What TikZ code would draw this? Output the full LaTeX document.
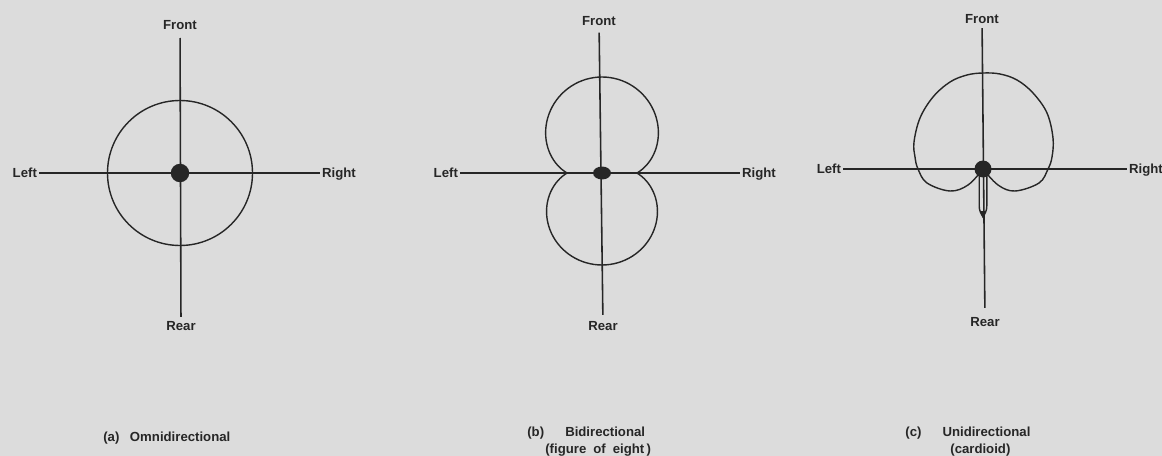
\documentclass[tikz,border=0pt]{standalone}
\usepackage{fontspec}
\setmainfont{Liberation Sans}
\usepackage{xcolor}
\usetikzlibrary{shapes.geometric}
\definecolor{Paper}{HTML}{DCDCDC}
\definecolor{Ink}{HTML}{262626}

\begin{document}
\begin{tikzpicture}[
  x=0.02cm,y=0.02cm,
  lbl/.style={font=\fontsize{7.5}{9}\selectfont\bfseries,text=Ink,inner sep=1pt,text height=5.4pt,text depth=0pt},
  captxt/.style={font=\fontsize{7.5}{9}\selectfont\bfseries,text=Ink,inner sep=0pt},
  axis/.style={draw=Ink,line width=0.9pt},
  polar/.style={draw=Ink,line width=0.8pt},
  dot/.style={circle,fill=Ink,inner sep=0pt,minimum size=0.37cm},
  flatdot/.style={ellipse,fill=Ink,inner sep=0pt,minimum width=0.36cm,minimum height=0.26cm}
]
\path[use as bounding box,fill=Paper] (0,0) rectangle (1162,-456);

% (a) omnidirectional
\node[lbl] (frontA) at (180,-25) {Front};
\node[lbl] (rearA) at (181,-326) {Rear};
\node[lbl,anchor=east] (leftA) at (39,-173) {Left};
\node[lbl,anchor=west] (rightA) at (320,-173) {Right};
\draw[axis] (leftA) -- (rightA);
\draw[axis,shorten <=3.5pt,shorten >=1.3pt] (frontA) -- (rearA);
\draw[polar] (180,-173) circle (72.5);
\node[dot] (micA) at (180,-173) {};
\node[captxt,anchor=base west] (capA) at (103,-441) {(a)\hspace{6pt}Omnidirectional};

% (b) figure of eight
\node[lbl] (frontB) at (599,-21) {Front};
\node[lbl] (rearB) at (603,-326) {Rear};
\node[lbl,anchor=east] (leftB) at (460,-173) {Left};
\node[lbl,anchor=west] (rightB) at (740,-173) {Right};
\draw[axis] (leftB) -- (rightB);
\draw[axis,shorten <=2.7pt,shorten >=2.4pt] (frontB) -- (rearB);
\draw[polar] plot[domain=-90:90,samples=73] ({602+(35+59*cos(\x))*sin(\x)},{-173+(35+61*cos(\x))*cos(\x)});
\draw[polar] plot[domain=90:270,samples=73] ({602+(35-57*cos(\x))*sin(\x)},{-173+(35-57*cos(\x))*cos(\x)});
\node[flatdot] (micB) at (602,-173) {};
\node[captxt,anchor=base west] (capB) at (527,-436) {(b)\hspace{12pt}Bidirectional};
\node[captxt,anchor=base west] (subB) at (545,-453) {(figure\hspace{4pt}of\hspace{4pt}eight\,)};

% (c) cardioid
\node[lbl] (frontC) at (982,-19) {Front};
\node[lbl] (rearC) at (985,-322) {Rear};
\node[lbl,anchor=east] (leftC) at (843,-169) {Left};
\node[lbl,anchor=west] (rightC) at (1127,-169) {Right};
\draw[axis] (leftC) -- (rightC);
\draw[axis,shorten <=1.3pt,shorten >=4.1pt] (frontC) -- (rearC);
\begin{scope}[shift={(983,-169)}]
  \draw[polar] plot[smooth,tension=0.6] coordinates {
    (0,0) (-15,-16) (-33,-22) (-56,-14) (-65,0) (-68,12) (-69,27) (-63,51)
    (-50,72) (-33,87) (-16,94) (0,96) (17,95) (34,89) (50,76) (64,56)
    (70,31) (69,12) (65,0) (56,-14) (32,-22) (15,-16) (0,0)};
  \draw[polar] (-3.8,-6) -- (-3.8,-37) to[out=-90,in=120] (0,-48)
    to[out=60,in=-90] (3.8,-37) -- (3.8,-6);
  \fill[Ink] (0,-49) -- (-2.6,-42) -- (2.6,-42) -- cycle;
\end{scope}
\node[dot,minimum size=0.34cm] (micC) at (983,-169) {};
\node[captxt,anchor=base west] (capC) at (905,-436) {(c)\hspace{12pt}Unidirectional};
\node[captxt,anchor=base west] (subC) at (950,-453) {(cardioid)};
\end{tikzpicture}
\end{document}
